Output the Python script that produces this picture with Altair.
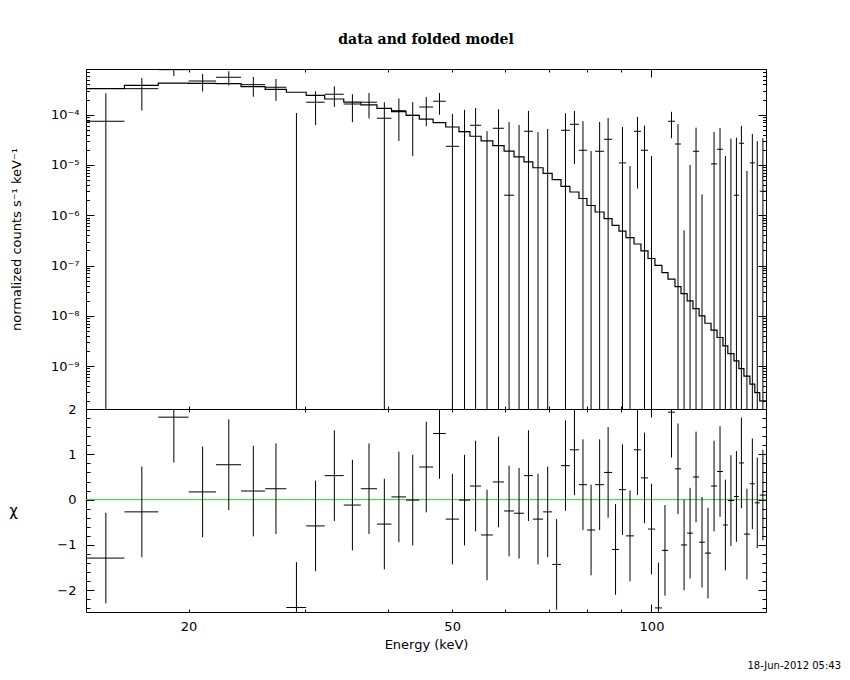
import altair as alt
import pandas as pd

# ---------------- data ----------------
energy_edges = [14.0, 16.0, 18.0, 20.0, 22.0, 24.0, 26.1, 28.1, 30.1, 32.1,
                34.3, 36.4, 38.5, 40.5, 42.6, 44.6, 46.8, 48.9, 51.2, 53.2,
                55.3, 57.6, 59.9, 62.0, 64.2, 66.2, 68.6, 70.8, 73.0, 75.3,
                77.7, 79.9, 82.2, 84.8, 87.2, 89.3, 91.5, 94.1, 96.4, 98.8,
                101.2, 103.7, 105.9, 108.5, 110.8, 113.2, 115.5, 118.0, 120.4, 123.0,
                125.6, 128.2, 130.4, 133.2, 135.5, 137.9, 140.8, 143.2, 145.7, 148.9]

model_rate = [3.29e-4, 3.84e-4, 4.26e-4, 4.21e-4, 4.13e-4, 3.62e-4, 3.20e-4, 2.79e-4, 2.43e-4, 2.05e-4,
              1.77e-4, 1.56e-4, 1.34e-4, 1.15e-4, 9.7e-5, 8.15e-5, 6.93e-5, 5.69e-5, 4.59e-5, 3.72e-5,
              3.00e-5, 2.43e-5, 1.88e-5, 1.45e-5, 1.15e-5, 8.8e-6, 6.8e-6, 5.1e-6, 3.76e-6, 2.9e-6,
              2.15e-6, 1.56e-6, 1.16e-6, 8.6e-7, 6.3e-7, 4.85e-7, 3.6e-7, 2.68e-7, 1.95e-7, 1.38e-7,
              1.01e-7, 7.2e-8, 5.35e-8, 3.8e-8, 2.76e-8, 1.98e-8, 1.39e-8, 9.95e-9, 7.1e-9, 5.2e-9,
              3.7e-9, 2.52e-9, 1.77e-9, 1.27e-9, 8.9e-10, 6.3e-10, 4.36e-10, 2.97e-10, 2.03e-10]

data_rate = [7.4e-5, 3.29e-4, 7.85e-4, 4.67e-4, 5.55e-4, 3.95e-4, 3.51e-4, -1.6e-5, 1.77e-4, 2.55e-4,
             1.63e-4, 1.77e-4, 8.5e-5, 1.2e-4, 9.7e-5, 1.42e-4, 1.85e-4, 2.35e-5, 4.6e-5, 6.15e-5,
             -3.2e-5, 5.37e-5, 2.5e-6, -6.2e-6, 4.68e-5, -1.9e-5, -1.0e-5, -8.3e-5, 4.9e-5, 6.44e-5,
             1.96e-5, -3.4e-5, 1.87e-5, 3.24e-5, -5.4e-5, 1.1e-5, -3.8e-5, 4.67e-5, 1.96e-5, -2.8e-5,
             -1.03e-4, -4.8e-5, 7.4e-5, 2.61e-5, -3.95e-5, -2.9e-5, 1.87e-5, -4.14e-5, -4.25e-5, 1.05e-5,
             2.05e-5, -1.92e-5, -6e-7, 2.5e-6, 2.7e-5, -2.44e-5, 1.1e-5, -2.2e-6, 3.0e-6]

data_err = [1.92e-4, 2.08e-4, 2.0e-4, 1.77e-4, 1.75e-4, 1.68e-4, 1.63e-4, 1.24e-4, 1.15e-4, 1.12e-4,
            9.2e-5, 9.3e-5, 9.2e-5, 9.0e-5, 8.2e-5, 8.3e-5, 8.5e-5, 8.0e-5, 7.9e-5, 7.4e-5,
            7.9e-5, 7.4e-5, 6.9e-5, 6.86e-5, 7.2e-5, 6.4e-5, 6.2e-5, 6.2e-5, 5.8e-5, 5.4e-5,
            5.5e-5, 5.3e-5, 5.3e-5, 5.36e-5, 5.0e-5, 4.6e-5, 4.75e-5, 4.33e-5, 4.09e-5, 4.3e-5,
            4.3e-5, 4.3e-5, 4.0e-5, 3.9e-5, 4.0e-5, 3.9e-5, 3.65e-5, 4.4e-5, 3.6e-5, 3.5e-5,
            3.4e-5, 3.43e-5, 3.4e-5, 3.24e-5, 3.26e-5, 3.2e-5, 3.03e-5, 3.2e-5, 3.1e-5]

chi = [-1.29, -0.27, 1.82, 0.17, 0.77, 0.19, 0.24, -2.38, -0.58, 0.53,
       -0.12, 0.24, -0.54, 0.06, -0.01, 0.72, 1.46, -0.43, -0.01, 0.30,
       -0.78, 0.39, -0.25, -0.30, 0.53, -0.43, -0.27, -1.43, 0.75, 1.10,
       0.33, -0.67, 0.33, 0.60, -1.10, 0.22, -0.80, 1.10, 0.48, -0.65,
       -2.39, -1.12, 1.93, 0.68, -1.00, -0.74, 0.50, -0.94, -1.18, 0.30,
       0.62, -0.56, -0.02, 0.07, 0.81, -0.76, 0.35, -0.07, 0.10]
chi_err = 1.0

x_tick_values = [20, 30, 40, 50, 60, 70, 80, 90, 100]
x_label_values = [20, 50, 100]
y_label_values = [1e-9, 1e-8, 1e-7, 1e-6, 1e-5, 1e-4]
chi_label_values = [-2, -1, 0, 1, 2]

title_text = "data and folded model"
ytitle_top = "normalized counts s\u207b\u00b9 keV\u207b\u00b9"
ytitle_bot = "\u03c7"
xtitle = "Energy (keV)"
stamp = "18-Jun-2012 05:43"

XMIN, XMAX = 14.0, 148.9
YMIN, YMAX = 1.4e-10, 8.1e-4
CMIN, CMAX = -2.48, 2.0

y_tick_values = [k * 10.0 ** e for e in range(-10, -3) for k in range(1, 10)
                 if YMIN <= k * 10.0 ** e <= YMAX]
chi_tick_values = [round(-2.4 + 0.2 * i, 1) for i in range(23)]

# ---------------- tables ----------------
bins = pd.DataFrame({"lo": energy_edges[:-1], "hi": energy_edges[1:],
                     "model": model_rate, "rate": data_rate, "err": data_err, "chi": chi})
bins["mid"] = (bins["lo"] + bins["hi"]) / 2
bins["up"] = bins["rate"] + bins["err"]
bins["dn"] = (bins["rate"] - bins["err"]).clip(lower=YMIN)
bins["chi_up"] = bins["chi"] + chi_err
bins["chi_dn"] = bins["chi"] - chi_err
pos = bins[bins["rate"] > 0]
bars = bins[bins["up"] > 0]
step = pd.DataFrame({"e": energy_edges, "m": model_rate + [model_rate[-1]]})
zero = pd.DataFrame({"x0": [XMIN], "x1": [XMAX], "y": [0.0]})

# ---------------- styling ----------------
FONT = "DejaVu Sans"
W, H1, H2 = 680, 340, 203
X_MAJOR = "datum.value == 100"
Y_MAJOR = "abs(log(datum.value) / LN10 - round(log(datum.value) / LN10)) < 0.001"
C_MAJOR = "abs(datum.value - round(datum.value)) < 0.001"

xs = alt.Scale(type="log", domain=[XMIN, XMAX], nice=False)
ys = alt.Scale(type="log", domain=[YMIN, YMAX], nice=False)
cs = alt.Scale(domain=[CMIN, CMAX], nice=False, zero=False)


def inward(orient, offset, values, test, major, minor):
    return alt.Axis(orient=orient, offset=offset, values=values, labels=False,
                    domain=False, grid=False, title=None, ticks=True,
                    tickColor="black", tickWidth=1,
                    tickSize={"condition": {"test": test, "value": major}, "value": minor})


sup = "['\u2070','\u00b9','\u00b2','\u00b3','\u2074','\u2075','\u2076','\u2077','\u2078','\u2079']"
y_top_axis = alt.Axis(orient="left", values=y_label_values, ticks=False, tickSize=0,
                      domain=False, grid=False,
                      labelExpr="'10\u207b' + " + sup + "[round(-log(datum.value) / LN10)]",
                      labelFont=FONT, labelFontSize=13, labelColor="black", labelPadding=7,
                      title=ytitle_top, titleFont=FONT, titleFontSize=13,
                      titleFontWeight="normal", titleColor="black", titleX=-63)

x_bot_axis = alt.Axis(orient="bottom", values=x_label_values, ticks=False, tickSize=0,
                      domain=False, grid=False, format="d", labelFlush=False,
                      labelFont=FONT, labelFontSize=13, labelColor="black", labelPadding=8,
                      title=xtitle, titleFont=FONT, titleFontSize=13,
                      titleFontWeight="normal", titleColor="black", titlePadding=5)

c_axis = alt.Axis(orient="left", values=chi_label_values, ticks=False, tickSize=0,
                  domain=False, grid=False, format="d",
                  labelFont=FONT, labelFontSize=13, labelColor="black", labelPadding=10,
                  title=ytitle_bot, titleFont=FONT, titleFontSize=15, titleFontWeight="normal",
                  titleColor="black", titleAngle=0, titleAlign="center",
                  titleBaseline="middle", titleX=-73, titleY=H2 / 2)

# ---------------- top panel ----------------
model_line = alt.Chart(step).mark_line(interpolate="step-after", color="black",
                                       strokeWidth=1.2, clip=True).encode(
    x=alt.X("e:Q", scale=xs, axis=inward("bottom", -H1, x_tick_values, X_MAJOR, 8, 3)),
    y=alt.Y("m:Q", scale=ys, axis=y_top_axis),
)
data_h = alt.Chart(pos).mark_rule(color="black", strokeWidth=1, clip=True).encode(
    x=alt.X("lo:Q", scale=xs, axis=inward("top", -H1, x_tick_values, X_MAJOR, 8, 3)),
    x2="hi:Q",
    y=alt.Y("rate:Q", scale=ys, axis=inward("right", -W, y_tick_values, Y_MAJOR, 8, 3.5)),
)
data_v = alt.Chart(bars).mark_rule(color="black", strokeWidth=1, clip=True).encode(
    x=alt.X("mid:Q", scale=xs, axis=None),
    y=alt.Y("dn:Q", scale=ys, axis=inward("left", -W, y_tick_values, Y_MAJOR, 8, 3.5)),
    y2="up:Q",
)
top = alt.layer(model_line, data_h, data_v).resolve_axis(
    x="independent", y="independent"
).properties(
    width=W, height=H1,
    title=alt.Title(title_text, font="DejaVu Serif", fontSize=14, fontWeight="bold",
                    color="black", anchor="middle", frame="group", offset=22),
)

# ---------------- bottom panel ----------------
zero_line = alt.Chart(zero).mark_rule(color="#22dd22", strokeWidth=1).encode(
    x=alt.X("x0:Q", scale=xs, axis=inward("top", -H2, x_tick_values, X_MAJOR, 8, 3)),
    x2="x1:Q",
    y=alt.Y("y:Q", scale=cs, axis=inward("left", -W, chi_tick_values, C_MAJOR, 8, 4)),
)
chi_h = alt.Chart(bins).mark_rule(color="black", strokeWidth=1, clip=True).encode(
    x=alt.X("lo:Q", scale=xs, axis=x_bot_axis),
    x2="hi:Q",
    y=alt.Y("chi:Q", scale=cs, axis=c_axis),
)
chi_v = alt.Chart(bins).mark_rule(color="black", strokeWidth=1, clip=True).encode(
    x=alt.X("mid:Q", scale=xs, axis=inward("bottom", -H2, x_tick_values, X_MAJOR, 8, 3)),
    y=alt.Y("chi_dn:Q", scale=cs, axis=inward("right", -W, chi_tick_values, C_MAJOR, 8, 4)),
    y2="chi_up:Q",
)
bottom = alt.layer(zero_line, chi_h, chi_v).resolve_axis(
    x="independent", y="independent"
).properties(
    width=W, height=H2,
    title=alt.Title(stamp, orient="bottom", anchor="end", frame="group", dx=75, offset=10,
                    font=FONT, fontSize=10, fontWeight="normal", color="black"),
)

chart = alt.vconcat(top, bottom, spacing=0, bounds="flush").resolve_scale(
    x="independent", y="independent"
).configure_view(stroke="black", strokeWidth=1).properties(
    padding={"left": 0, "top": 24, "right": 0, "bottom": 0}
)

chart.save("out.html", embed_options={"renderer": "svg", "actions": False})
